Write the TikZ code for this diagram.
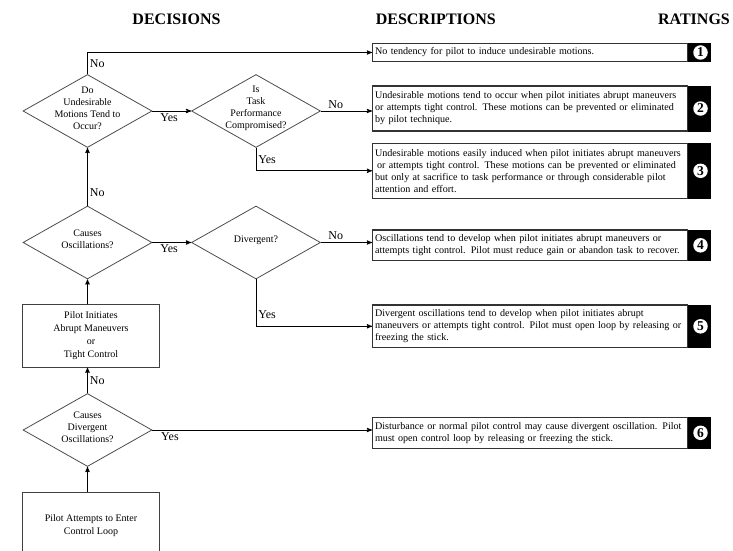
\documentclass[tikz,border=0pt]{standalone}
\usepackage{fontspec}
\setmainfont{Liberation Serif}
\usetikzlibrary{arrows,shapes.geometric}

\begin{document}
\begin{tikzpicture}[x=1pt,y=-1pt,->,>=stealth',line width=0.9pt,
  decision/.style={diamond,draw=black!70,line width=0.8pt,aspect=1.77,minimum width=129pt,minimum height=73pt,inner sep=0pt},
  dtext/.style={align=center,font=\fontsize{10}{12}\selectfont,inner sep=0pt},
  action/.style={rectangle,draw=black!75,line width=1pt,minimum width=136.6pt,align=center,font=\fontsize{10}{13}\selectfont},
  desc/.style={rectangle,draw=black!80,line width=1.2pt,anchor=west,text width=310pt,inner xsep=2.5pt,inner ysep=4pt,align=left,font=\fontsize{10.1}{12}\selectfont},
  ratebox/.style={rectangle,fill=black,draw=black,line width=0.6pt,anchor=west,minimum width=22pt,inner sep=0pt},
  ratenum/.style={circle,fill=white,inner sep=0pt,minimum size=14.5pt,font=\fontsize{13.5}{13.5}\selectfont\bfseries},
  hdr/.style={font=\fontsize{16}{18}\selectfont\bfseries},
  lbl/.style={font=\fontsize{12}{14}\selectfont,inner sep=2pt}]

\useasboundingbox (0,0) rectangle (733,551);

% headings
\node[hdr](hdec) at (176.5,19) {DECISIONS};
\node[hdr](hdes) at (435.8,19) {DESCRIPTIONS};
\node[hdr](hrat) at (694,19) {RATINGS};

% decisions
\node[decision](d1) at (87.5,111) {};
\node[dtext](t1) at (87.5,108.5) {Do\\Undesirable\\Motions Tend to\\Occur?};
\node[decision](d2) at (256,111) {};
\node[dtext](t2) at (256,108) {Is\\Task\\Performance\\Compromised?};
\node[decision](d3) at (87.5,242.5) {};
\node[dtext](t3) at (87.5,239.5) {Causes\\Oscillations?};
\node[decision](d4) at (256,242.5) {};
\node[dtext](t4) at (256,240) {Divergent?};
\node[decision](d5) at (87.5,430) {};
\node[dtext](t5) at (87.5,427) {Causes\\Divergent\\Oscillations?};

\node[action,minimum height=62.3pt](p1) at (91,336) {Pilot Initiates\\Abrupt Maneuvers\\or\\Tight Control};
\node[action,minimum height=66.6pt](p2) at (91,526) {Pilot Attempts to Enter\\Control Loop};

% descriptions
\node[desc,minimum height=18.4pt](b1) at (372,52.5) {No tendency for pilot to induce undesirable motions.};
\node[desc,minimum height=45pt](b2) at (372,108.5) {Undesirable motions tend to occur when pilot initiates abrupt maneuvers\\or attempts tight control.  These motions can be prevented or eliminated\\by pilot technique.};
\node[desc,minimum height=55pt](b3) at (372,170.8) {Undesirable motions easily induced when pilot initiates abrupt maneuvers\\\hspace{2pt}or attempts tight control.  These motions can be prevented or eliminated\\but only at sacrifice to task performance or through considerable pilot\\attention and effort.};
\node[desc,minimum height=30.7pt](b4) at (372,245.3) {Oscillations tend to develop when pilot initiates abrupt maneuvers or\\attempts tight control.  Pilot must reduce gain or abandon task to recover.};
\node[desc,minimum height=42.7pt](b5) at (372,326.3) {Divergent oscillations tend to develop when pilot initiates abrupt\\maneuvers or attempts tight control.  Pilot must open loop by releasing or\\freezing the stick.};
\node[desc,minimum height=31pt](b6) at (372,432.8) {Disturbance or normal pilot control may cause divergent oscillation.  Pilot\\must open control loop by releasing or freezing the stick.};

% ratings
\node[ratebox,minimum height=18.4pt](r1) at (b1.east) {};
\node[ratenum](n1) at ([xshift=1pt]r1.center) {1};
\node[ratebox,minimum height=45pt](r2) at (b2.east) {};
\node[ratenum](n2) at ([xshift=1pt]r2.center) {2};
\node[ratebox,minimum height=55pt](r3) at (b3.east) {};
\node[ratenum](n3) at ([xshift=1pt]r3.center) {3};
\node[ratebox,minimum height=30.7pt](r4) at (b4.east) {};
\node[ratenum](n4) at ([xshift=1pt]r4.center) {4};
\node[ratebox,minimum height=42.7pt](r5) at (b5.east) {};
\node[ratenum](n5) at ([xshift=1pt]r5.center) {5};
\node[ratebox,minimum height=31pt](r6) at (b6.east) {};
\node[ratenum](n6) at ([xshift=1pt]r6.center) {6};

% connectors
\draw (d1.north) |- node[lbl,pos=0.25,right]{No} (b1.west);
\draw (d2.south) |- node[lbl,pos=0.25,right]{Yes} (b3.west);
\draw (d4.south) |- node[lbl,pos=0.375,right]{Yes} (b5.west);
\path
(d1.east) edge node[lbl,below,pos=0.43]{Yes} (d2.west)
(d2.east) edge node[lbl,above,pos=0.29]{No} (d2.east -| b2.west)
(d3.north) edge node[lbl,pos=0.22,right]{No} (d1.south)
(d3.east) edge node[lbl,below,pos=0.43]{Yes} (d4.west)
(d4.east) edge node[lbl,above,pos=0.29]{No} (d4.east -| b4.west)
(d3.south |- p1.north) edge (d3.south)
(d5.north) edge node[lbl,right]{No} (d5.north |- p1.south)
(d5.east) edge node[lbl,below,pos=0.08]{Yes} (d5.east -| b6.west)
(d5.south |- p2.north) edge (d5.south);
\end{tikzpicture}
\end{document}
